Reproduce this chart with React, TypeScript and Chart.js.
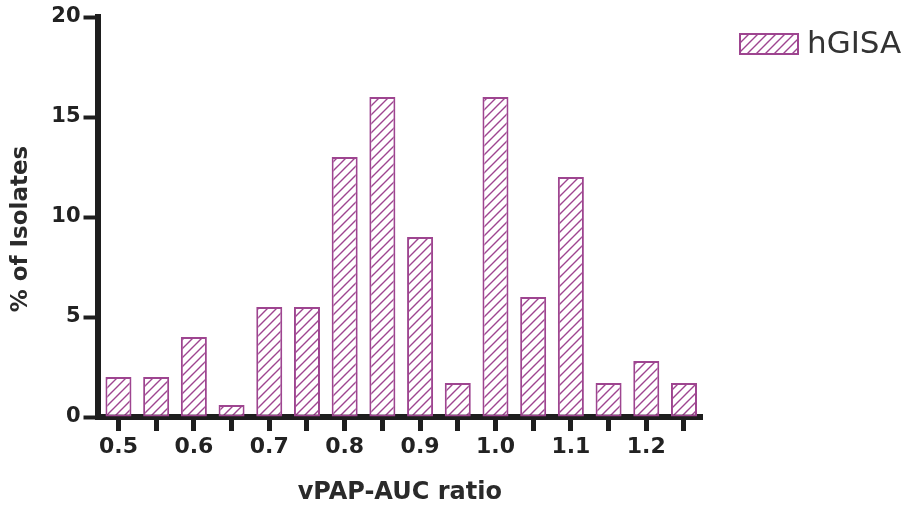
import { useEffect, useRef } from "react";
import { Chart, registerables } from "chart.js";

Chart.register(...registerables);

// vPAP-AUC ratio bins (bar centres) and share of isolates in each bin (%)
const ratioBins = [0.5, 0.55, 0.6, 0.65, 0.7, 0.75, 0.8, 0.85, 0.9, 0.95, 1.0, 1.05, 1.1, 1.15, 1.2, 1.25];
const isolatePercent = [2.0, 2.0, 4.0, 0.6, 5.5, 5.5, 13.0, 16.0, 9.0, 1.7, 16.0, 6.0, 12.0, 1.7, 2.8, 1.7];
const xTickLabels = ["0.5", "0.6", "0.7", "0.8", "0.9", "1.0", "1.1", "1.2"];
const yTickValues = [0, 5, 10, 15, 20];
const seriesLabel = "hGISA";

const PURPLE = "#9e4590";
const AXIS = "#1e1e1e";
const FONT = "'DejaVu Sans', 'Liberation Sans', sans-serif";

function makeHatch(): CanvasPattern | string {
  const s = 9;
  const c = document.createElement("canvas");
  c.width = s;
  c.height = s;
  const g = c.getContext("2d");
  if (!g) return "#ffffff";
  g.fillStyle = "#ffffff";
  g.fillRect(0, 0, s, s);
  g.strokeStyle = PURPLE;
  g.lineWidth = 1.4;
  g.beginPath();
  g.moveTo(0, s);
  g.lineTo(s, 0);
  g.moveTo(-2, 2);
  g.lineTo(2, -2);
  g.moveTo(s - 2, s + 2);
  g.lineTo(s + 2, s - 2);
  g.stroke();
  return g.createPattern(c, "repeat") || "#ffffff";
}

// Draws the hatched swatch and series name to the right of the plot
const hatchLegend = {
  id: "hatchLegend",
  afterDraw(chart: any) {
    const { ctx, chartArea } = chart;
    const ds = chart.data.datasets[0];
    const w = 60;
    const h = 22;
    const x = chartArea.right + 37;
    const y = chartArea.top + 16;
    ctx.save();
    ctx.fillStyle = ds.backgroundColor;
    ctx.fillRect(x, y, w, h);
    ctx.strokeStyle = PURPLE;
    ctx.lineWidth = 2;
    ctx.strokeRect(x + 1, y + 1, w - 2, h - 2);
    ctx.fillStyle = "#333333";
    ctx.font = `31px ${FONT}`;
    ctx.textAlign = "left";
    ctx.textBaseline = "middle";
    ctx.fillText(ds.label, x + w + 8, y + h / 2 + 1);
    ctx.restore();
  },
};

export default function App() {
  const canvasRef = useRef<HTMLCanvasElement | null>(null);

  useEffect(() => {
    const canvas = canvasRef.current;
    if (!canvas) return;
    const hatch = makeHatch();

    const chart = new Chart(canvas, {
      type: "bar",
      data: {
        datasets: [
          {
            label: seriesLabel,
            data: ratioBins.map((r, i) => ({ x: r, y: isolatePercent[i] })),
            backgroundColor: hatch as any,
            borderColor: PURPLE,
            borderWidth: 2,
            borderSkipped: false,
            categoryPercentage: 1,
            barPercentage: 0.69,
          },
        ],
      },
      plugins: [hatchLegend],
      options: {
        responsive: true,
        maintainAspectRatio: false,
        animation: false,
        layout: { padding: { top: 17, right: 206, bottom: 0, left: 0 } },
        plugins: {
          legend: { display: false },
          tooltip: { enabled: false },
        },
        scales: {
          x: {
            type: "linear",
            min: 0.4722,
            max: 1.2739,
            offset: false,
            afterBuildTicks: (scale: any) => {
              scale.ticks = ratioBins.map((v) => ({ value: v }));
            },
            afterFit: (scale: any) => {
              scale.height = 93;
            },
            ticks: {
              autoSkip: false,
              maxRotation: 0,
              minRotation: 0,
              padding: 3,
              color: "#222222",
              font: { family: FONT, size: 22, weight: "bold" },
              callback: (v: any) =>
                xTickLabels.find((l) => Math.abs(parseFloat(l) - Number(v)) < 1e-6) ?? "",
            },
            grid: {
              offset: false,
              drawOnChartArea: false,
              drawTicks: true,
              tickLength: 14,
              tickWidth: 5,
              tickColor: AXIS,
              color: AXIS,
            },
            border: { display: true, width: 6, color: AXIS },
            title: {
              display: true,
              text: "vPAP-AUC ratio",
              color: "#2a2a2a",
              font: { family: FONT, size: 24, weight: "bold" },
              padding: { top: 0, bottom: 3 },
            },
          },
          y: {
            min: 0,
            max: 20,
            afterBuildTicks: (scale: any) => {
              scale.ticks = yTickValues.map((v) => ({ value: v }));
            },
            afterFit: (scale: any) => {
              scale.width = 97.5;
            },
            ticks: {
              padding: 3,
              color: "#222222",
              font: { family: FONT, size: 21, weight: "bold" },
            },
            grid: {
              drawOnChartArea: false,
              drawTicks: true,
              tickLength: 14,
              tickWidth: 4,
              tickColor: AXIS,
              color: AXIS,
            },
            border: { display: true, width: 6, color: AXIS },
            title: {
              display: true,
              // trailing spaces nudge the centred title a little toward the baseline
              text: "% of Isolates   ",
              color: "#2a2a2a",
              font: { family: FONT, size: 23, weight: "bold" },
              padding: { top: 7, bottom: 0 },
            },
          },
        },
      },
    });

    return () => chart.destroy();
  }, []);

  return (
    <div
      style={{
        position: "fixed",
        left: 0,
        top: 0,
        width: 908,
        height: 510,
        background: "#ffffff",
      }}
    >
      <canvas ref={canvasRef} />
    </div>
  );
}
